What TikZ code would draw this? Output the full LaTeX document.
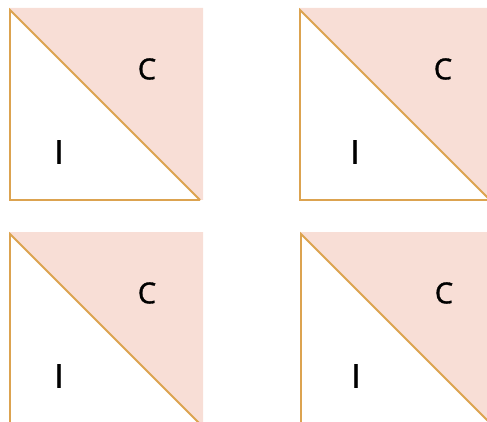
\documentclass[tikz,border=0pt]{standalone}
\usepackage{fontspec}
\setmainfont{Open Sans}
\newfontfamily\tagfont{Open Sans}[FakeBold=1.2]
\usepackage{tikz}
\definecolor{edgeorange}{RGB}{220,163,80}
\definecolor{regionpink}{RGB}{248,222,214}

\begin{document}
\begin{tikzpicture}[
  x=1pt, y=-1pt,
  region/.style={fill=regionpink, draw=none},
  edge/.style={draw=edgeorange, line width=1.8pt},
  ctag/.style={font=\tagfont\fontsize{29}{32}\selectfont, inner sep=0pt},
  itag/.style={font=\tagfont\fontsize{33}{36}\selectfont, inner sep=0pt}
]
  \useasboundingbox (0,0) rectangle (487,422);
  % square offset, then label offset
  \foreach \name/\dx/\dy/\lx in {tl/0/0/0, tr/290/0/296, bl/0/224/0, br/291/224/297} {
    \begin{scope}[shift={(\dx,\dy)}]
      \fill[region] (10,8) -- (203,8) -- (203,200) -- (200,200) -- (10,10) -- cycle;
      \draw[edge] (200,200) -- (10,200) -- (10,10) -- (200,200);
    \end{scope}
    \node[ctag] (C-\name) at (147+\lx,69+\dy) {C};
    \node[itag] (I-\name) at (59+\lx,152+\dy) {I};
  }
\end{tikzpicture}
\end{document}
